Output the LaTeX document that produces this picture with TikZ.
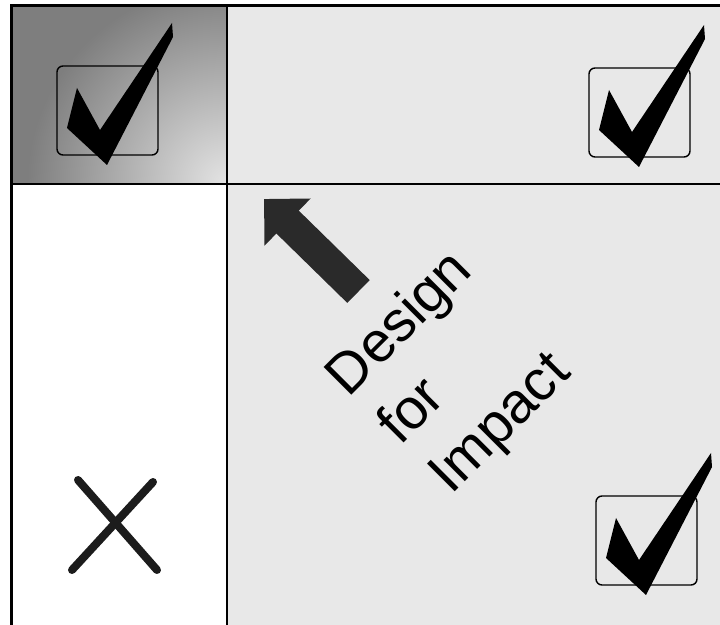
\documentclass[tikz,border=0pt]{standalone}
\usepackage{fontspec}
\setmainfont{Liberation Sans}
\usepackage{xcolor}
\definecolor{cellgray}{HTML}{E8E8E8}
\definecolor{shadedark}{HTML}{7E7E7E}
\definecolor{shadelight}{HTML}{E4E4E4}
\definecolor{inkdark}{HTML}{2A2A2A}
\definecolor{crossink}{HTML}{1C1C1C}
\usetikzlibrary{arrows.meta}
\tikzset{
  frame/.style    = {line width=3pt,draw=black},
  rule/.style     = {line width=2.4pt,draw=black},
  boxline/.style  = {line width=1.4pt,draw=black,rounded corners=6pt},
  crossmark/.style= {line width=8pt,draw=crossink,line cap=round},
  bigarrow/.style = {line width=32pt,draw=inkdark,
                     -{Triangle[length=33pt,width=64pt]}},
  slogan/.style   = {rotate=45,anchor=base west,inner sep=0pt,
                     font=\fontsize{57}{68}\selectfont},
}
\newcommand{\tickbox}[3]{%
  \begin{scope}[shift={(#2,#3)}]
    \draw[boxline] (0,0) rectangle (101,-89);
    \fill (115,43) -- (116,29) -- (50,-99) -- (10,-62) -- (20,-22)
          -- (43,-64) -- cycle;
    \coordinate (#1-box) at (50.5,-44.5);
  \end{scope}%
}

\begin{document}
\begin{tikzpicture}[x=1pt,y=1pt]
  \useasboundingbox (0,0) rectangle (720,624);
  \clip (0,0) rectangle (720,624);
  \fill[white] (0,0) rectangle (720,624);

  % cells
  \fill[cellgray] (227,-5) rectangle (730,618.5);
  \begin{scope}
    \clip (11.5,440) rectangle (227,618.5);
    \fill[shadedark] (11.5,440) rectangle (227,618.5);
    \shade[inner color=shadelight,outer color=shadedark] (227,440) circle (200);
  \end{scope}

  % table lines
  \draw[frame] (11.5,-5) -- (11.5,618.5) -- (730,618.5);
  \draw[rule] (227,-5) -- (227,618.5);
  \draw[rule] (11.5,440) -- (730,440);

  % ticks
  \tickbox{tl}{57}{558}
  \tickbox{tr}{589}{556}
  \tickbox{br}{596}{128}

  % cross
  \draw[crossmark] (78,144) -- (157,54);
  \draw[crossmark] (153,142) -- (72,54);

  % arrow and slogan
  \coordinate (arrtail) at (358.5,332.5);
  \coordinate (arrtip) at (264,425);
  \draw[bigarrow] (arrtail) -- (arrtip);

  \node[slogan] (design) at (348.8,225.8) {Design};
  \node[slogan] (for) at (400,177) {for};
  \node[slogan] (impact) at (451.2,128.2) {Impact};
\end{tikzpicture}
\end{document}
